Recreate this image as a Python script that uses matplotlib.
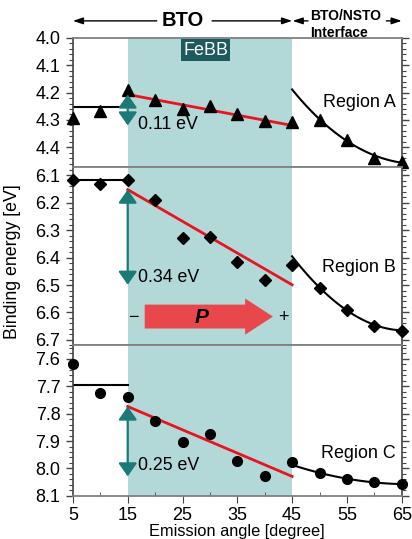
import numpy as np
import matplotlib.pyplot as plt
from matplotlib.ticker import MultipleLocator, FormatStrFormatter

plt.rcParams['font.family'] = ['Liberation Sans', 'DejaVu Sans']

angle = [5, 10, 15, 20, 25, 30, 35, 40, 45, 50, 55, 60, 65]

# binding energies (eV) per region
be_a = [4.294, 4.268, 4.191, 4.227, 4.261, 4.249, 4.280, 4.302, 4.308, 4.300, 4.372, 4.440, 4.452]
be_b = [6.118, 6.130, 6.118, 6.190, 6.330, 6.324, 6.416, 6.481, 6.428, 6.510, 6.591, 6.648, 6.667]
be_c = [7.618, 7.725, 7.740, 7.826, 7.903, 7.875, 7.971, 8.028, 7.976, 8.016, 8.037, 8.051, 8.057]

# flat level at low angles
flat_a = 4.254
flat_b = 6.118
flat_c = 7.694

# linear trend across FeBB region (start, end at 15 and 45 deg)
trend_a = [4.207, 4.320]
trend_b = [6.152, 6.499]
trend_c = [7.774, 8.029]

# interface curve guide points (45..65 deg)
curve_x = [45, 50, 55, 60, 65]
curve_a = [4.188, 4.300, 4.372, 4.432, 4.455]
curve_b = [6.395, 6.510, 6.591, 6.646, 6.665]
curve_c = [7.987, 8.016, 8.037, 8.051, 8.057]

shift_labels = ['0.11 eV', '0.34 eV', '0.25 eV']
region_names = ['Region A', 'Region B', 'Region C']
ylims = [(4.473, 4.0), (6.72, 6.071), (8.1, 7.551)]
yticks = [[4.0, 4.1, 4.2, 4.3, 4.4],
          [6.1, 6.2, 6.3, 6.4, 6.5, 6.6, 6.7],
          [7.6, 7.7, 7.8, 7.9, 8.0, 8.1]]
label_y = [4.235, 6.436, 7.944]
shift_text_y = [4.315, 6.473, 7.99]
markers = [('^', 8), ('D', 6.5), ('o', 7)]

teal = '#1b7a78'
shade = '#b3d8d8'
red = '#e8141e'

fig = plt.figure(figsize=(4.12, 5.39), dpi=100)
gs = fig.add_gridspec(3, 1, height_ratios=[0.473, 0.649, 0.549], hspace=0,
                      left=0.177, right=0.975, bottom=0.080, top=0.930)
axes = [fig.add_subplot(gs[i]) for i in range(3)]

datasets = [be_a, be_b, be_c]
flats = [flat_a, flat_b, flat_c]
trends = [trend_a, trend_b, trend_c]
curves = [curve_a, curve_b, curve_c]

for i, ax in enumerate(axes):
    ax.axvspan(15, 45, color=shade, lw=0, zorder=0)
    ax.plot([5, 15], [flats[i]] * 2, color='black', lw=1.5, zorder=2)
    ax.plot([15, 45], trends[i], color=red, lw=2, zorder=3)
    cx = np.linspace(45, 65, 100)
    fit = np.polyfit(curve_x, curves[i], 3)
    ax.plot(cx, np.polyval(fit, cx), color='black', lw=1.5, zorder=2)
    m, ms = markers[i]
    ax.plot(angle, datasets[i], linestyle='none', marker=m, ms=ms,
            color='black', zorder=4, clip_on=False)

    # double arrow for the energy shift
    ax.annotate('', xy=(15, trends[i][0]), xytext=(15, trends[i][1]),
                arrowprops=dict(arrowstyle='<|-|>,head_length=0.4,head_width=0.28',
                                color=teal, lw=1.6, mutation_scale=20,
                                shrinkA=0, shrinkB=0), zorder=5)
    ax.text(16.9, shift_text_y[i], shift_labels[i], fontsize=12.8,
            va='center', ha='left', zorder=5)
    ax.text(64, label_y[i], region_names[i], fontsize=12.9,
            va='center', ha='right', zorder=5)

    ax.set_xlim(5, 65)
    ax.set_ylim(*ylims[i])
    ax.set_yticks(yticks[i])
    ax.yaxis.set_major_formatter(FormatStrFormatter('%.1f'))
    ax.yaxis.set_minor_locator(MultipleLocator(0.02))
    ax.tick_params(axis='y', which='both', direction='out', left=True, right=True,
                   labelsize=13, color='#444444', pad=4)
    ax.tick_params(axis='y', which='major', length=5, width=1)
    ax.tick_params(axis='y', which='minor', length=3, width=0.8)
    for side in ['left', 'right']:
        ax.spines[side].set_color('#444444')
        ax.spines[side].set_linewidth(1.2)
    for side in ['top', 'bottom']:
        ax.spines[side].set_color('#808080')
        ax.spines[side].set_linewidth(1.3)
    if i < 2:
        ax.tick_params(axis='x', which='both', bottom=False, labelbottom=False)

ax = axes[2]
ax.set_xticks([5, 15, 25, 35, 45, 55, 65])
ax.xaxis.set_minor_locator(MultipleLocator(5))
ax.tick_params(axis='x', which='major', direction='out', length=5, labelsize=13,
               color='#444444', pad=3)
ax.tick_params(axis='x', which='minor', direction='in', length=3, color='#444444')
ax.set_xlabel('Emission angle [degree]', fontsize=11.8, labelpad=0)

fig.text(0.03, 0.515, 'Binding energy [eV]', rotation=90, fontsize=12.8,
         va='center', ha='center')

# FeBB label box
axes[0].text(29.2, 4.045, 'FeBB', fontsize=13, color='white', ha='center', va='center',
             bbox=dict(boxstyle='square,pad=0.12', fc='#1d5a5e', ec='none'), zorder=6)

# polarization arrow
axb = axes[1]
axb.annotate('', xy=(41.5, 6.615), xytext=(18.1, 6.615),
             arrowprops=dict(arrowstyle='simple,head_length=1.0,head_width=1.3,tail_width=0.86',
                             color='#e8474c', lw=0, mutation_scale=20,
                             shrinkA=0, shrinkB=0), zorder=5)
axb.text(28.5, 6.62, 'P', fontsize=15, fontweight='bold', fontstyle='italic',
         ha='center', va='center', zorder=6)
axb.text(16.0, 6.62, '\u2212', fontsize=13, ha='center', va='center', zorder=6)
axb.text(43.4, 6.62, '+', fontsize=13, ha='center', va='center', zorder=6)

# header arrows above the top panel
axt = axes[0]
hy = 1.13
trans = axt.get_xaxis_transform()
arrow_kw = dict(arrowstyle='-|>,head_length=0.6,head_width=0.2', color='black',
                lw=1, mutation_scale=10, shrinkA=0, shrinkB=0)
axt.text(25, hy, 'BTO', transform=trans, fontsize=14.5, fontweight='bold',
         ha='center', va='center')
axt.annotate('', xy=(5, hy), xytext=(20.3, hy), xycoords=trans, textcoords=trans,
             arrowprops=arrow_kw)
axt.annotate('', xy=(45, hy), xytext=(30.4, hy), xycoords=trans, textcoords=trans,
             arrowprops=arrow_kw)
axt.text(48.2, 1.17, 'BTO/NSTO', transform=trans, fontsize=10, fontweight='bold',
         ha='left', va='center')
axt.text(48.2, 1.04, 'Interface', transform=trans, fontsize=10, fontweight='bold',
         ha='left', va='center')
axt.annotate('', xy=(45.1, hy), xytext=(47.9, hy), xycoords=trans, textcoords=trans,
             arrowprops=arrow_kw)
axt.annotate('', xy=(65, hy), xytext=(62.2, hy), xycoords=trans, textcoords=trans,
             arrowprops=arrow_kw)

fig.savefig('out.png', dpi=100)
